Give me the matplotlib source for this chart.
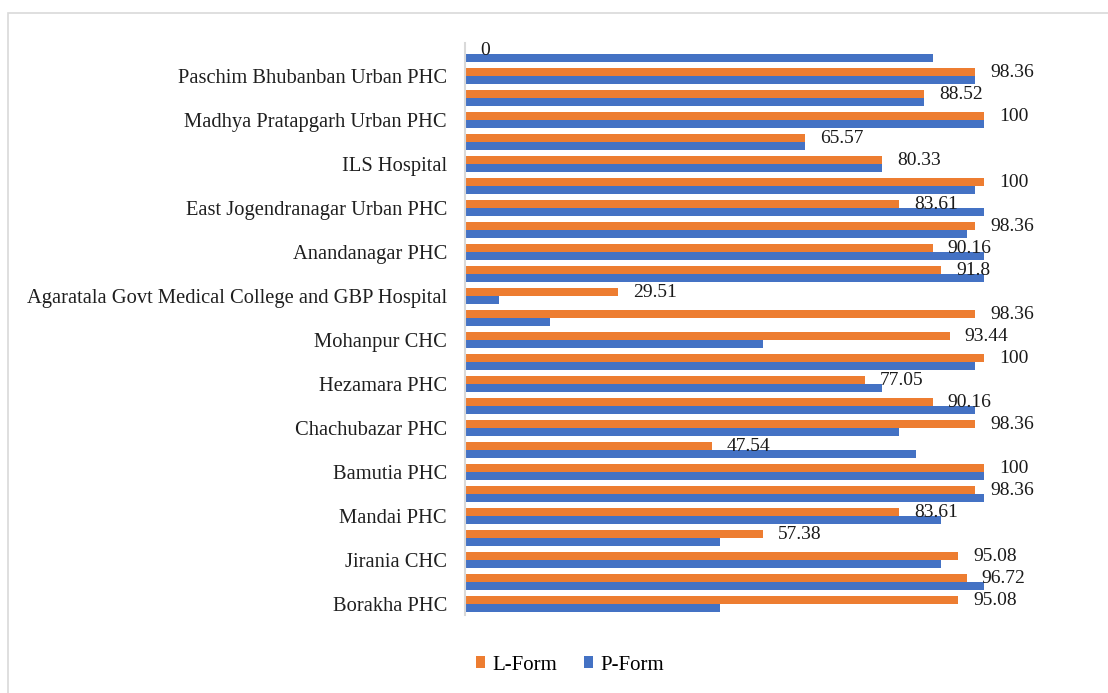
import numpy as np
import matplotlib
matplotlib.use("Agg")
import matplotlib.pyplot as plt
from matplotlib.patches import Rectangle

# categories (bottom to top), one label for every second row
categories = ["Borakha PHC", "Jirania CHC", "Mandai PHC", "Bamutia PHC",
              "Chachubazar PHC", "Hezamara PHC", "Mohanpur CHC",
              "Agaratala Govt Medical College and GBP Hospital",
              "Anandanagar PHC", "East Jogendranagar Urban PHC",
              "ILS Hospital", "Madhya Pratapgarh Urban PHC",
              "Paschim Bhubanban Urban PHC"]

# bar rows, bottom to top
l_form = [95.08, 96.72, 95.08, 57.38, 83.61, 98.36, 100, 47.54, 98.36, 90.16,
          77.05, 100, 93.44, 98.36, 29.51, 91.8, 90.16, 98.36, 83.61, 100,
          80.33, 65.57, 100, 88.52, 98.36, 0]
p_form = [49.18, 100, 91.8, 49.18, 91.8, 100, 100, 86.89, 83.61, 98.36,
          80.33, 98.36, 57.38, 16.39, 6.56, 100, 100, 96.72, 100, 98.36,
          80.33, 65.57, 100, 88.52, 98.36, 90.16]

plt.rcParams['font.family'] = ['Liberation Serif', 'DejaVu Serif']

fig = plt.figure(figsize=(11.08, 6.93), dpi=100)
# light grey frame round the chart
fig.patches.append(Rectangle((8 / 1108, -0.05), 1.1, 1 - 13 / 693 + 0.05,
                             transform=fig.transFigure, fill=False,
                             edgecolor='#D9D9D9', linewidth=1.2))

ax = fig.add_axes([465 / 1108, 1 - 615 / 693, 581 / 1108, 572 / 693])

y = np.arange(len(l_form))
h = 0.36
orange = '#ED7D31'
blue = '#4472C4'
ax.barh(y + 0.18, l_form, height=h, color=orange, label='L-Form')
ax.barh(y - 0.18, p_form, height=h, color=blue, label='P-Form')

for yi, v in zip(y, l_form):
    ax.text(v + 2.9, yi + 0.14, f"{v:g}", ha='left', va='center',
            fontsize=14, color='#1a1a1a')

ax.set_ylim(-0.5, len(l_form) - 0.5)
ax.set_xlim(0, 112)
ax.set_yticks(np.arange(0, len(l_form), 2))
ax.set_yticklabels(categories, fontsize=14.8, color='#1f1f1f')
ax.tick_params(axis='y', length=0, pad=13)
ax.set_xticks([])
for s in ['top', 'right', 'bottom']:
    ax.spines[s].set_visible(False)
ax.spines['left'].set_color('#D9D9D9')
ax.spines['left'].set_linewidth(1.5)

fig.legend(loc='center', bbox_to_anchor=(570 / 1108, 1 - 665 / 693), ncol=2,
           frameon=False, fontsize=15, handlelength=0.45, handleheight=0.45,
           handletextpad=0.35, columnspacing=1.3)

fig.savefig('out.png', dpi=100)
